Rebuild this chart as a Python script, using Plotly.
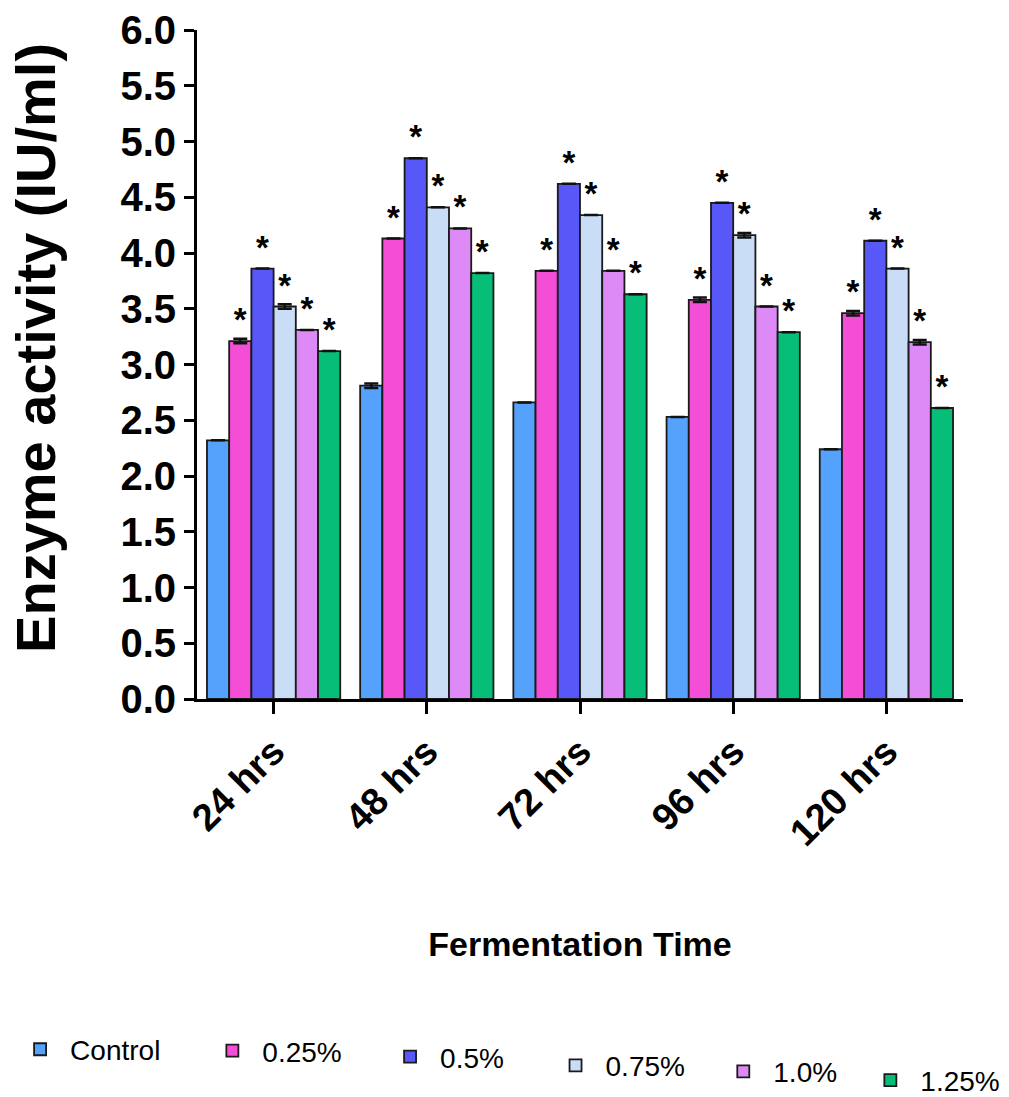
import plotly.graph_objects as go

# Fermentation time points (x categories)
times = ["24 hrs", "48 hrs", "72 hrs", "96 hrs", "120 hrs"]

# Substrate concentration series
series_names = ["Control", "0.25%", "0.5%", "0.75%", "1.0%", "1.25%"]

# Enzyme activity (IU/ml) per concentration, one value per time point
control = [2.32, 2.81, 2.66, 2.53, 2.24]
conc_025 = [3.21, 4.13, 3.84, 3.58, 3.46]
conc_050 = [3.86, 4.85, 4.62, 4.45, 4.11]
conc_075 = [3.52, 4.41, 4.34, 4.16, 3.86]
conc_100 = [3.31, 4.22, 3.84, 3.52, 3.20]
conc_125 = [3.12, 3.82, 3.63, 3.29, 2.61]

# Standard error for each bar
err_control = [0.0, 0.02, 0.0, 0.0, 0.0]
err_025 = [0.02, 0.0, 0.0, 0.02, 0.02]
err_050 = [0.0, 0.0, 0.0, 0.0, 0.0]
err_075 = [0.02, 0.0, 0.0, 0.02, 0.0]
err_100 = [0.0, 0.0, 0.0, 0.0, 0.02]
err_125 = [0.0, 0.0, 0.0, 0.0, 0.0]

# Significance marks versus control
sig_control = ["", "", "", "", ""]
sig_treated = ["*", "*", "*", "*", "*"]

y_ticks = [0.0, 0.5, 1.0, 1.5, 2.0, 2.5, 3.0, 3.5, 4.0, 4.5, 5.0, 5.5, 6.0]

values = [control, conc_025, conc_050, conc_075, conc_100, conc_125]
errors = [err_control, err_025, err_050, err_075, err_100, err_125]
sigs = [sig_control, sig_treated, sig_treated, sig_treated, sig_treated, sig_treated]
colors = ["#55A2FC", "#F54ED6", "#5858F8", "#C9DDF6", "#DD89F6", "#06BE78"]

FONT = "Liberation Sans, Arial, sans-serif"

# stepped key beneath the chart (paper coords)
legend_x = [-0.244, 0.007, 0.239, 0.455, 0.674, 0.866]
legend_y = [-0.524, -0.526, -0.535, -0.548, -0.557, -0.570]

fig = go.Figure()
for i, (name, vals, err, sig, col) in enumerate(zip(series_names, values, errors, sigs, colors)):
    legend_id = "legend" if i == 0 else f"legend{i + 1}"
    fig.add_trace(go.Bar(
        name=name,
        x=times,
        y=vals,
        marker=dict(color=col, line=dict(color="#1a1a1a", width=1.8)),
        error_y=dict(type="data", array=err, visible=True, color="#111111",
                     thickness=2.5, width=7),
        text=sig,
        textposition="outside",
        textfont=dict(family=FONT, size=33, color="black", weight="bold"),
        constraintext="none",
        cliponaxis=False,
        showlegend=True,
        legend=legend_id,
    ))

layout_legends = {}
for i in range(6):
    key = "legend" if i == 0 else f"legend{i + 1}"
    layout_legends[key] = dict(
        x=legend_x[i], y=legend_y[i], xanchor="left", yanchor="middle",
        xref="paper", yref="paper",
        bgcolor="rgba(0,0,0,0)",
        font=dict(family=FONT, size=28, color="black"),
        itemwidth=50,
    )

fig.update_layout(
    width=1009,
    height=1097,
    margin=dict(l=197, r=46, t=30, b=398, autoexpand=False),
    paper_bgcolor="white",
    plot_bgcolor="white",
    showlegend=True,
    barmode="group",
    bargap=0.13,
    bargroupgap=0.0,
    **layout_legends,
)

# y-axis title, rotated, set slightly above the axis midpoint
fig.add_annotation(
    text="Enzyme activity (IU/ml)",
    textangle=-90,
    xref="paper", yref="paper",
    x=-0.21, y=0.525,
    xanchor="center", yanchor="middle",
    showarrow=False,
    font=dict(family=FONT, size=56, color="black", weight="bold"),
)

fig.update_yaxes(
    range=[0, 6.0],
    tickvals=y_ticks,
    ticktext=[f"{v:.1f}" for v in y_ticks],
    ticks="outside",
    ticklen=10,
    tickwidth=3,
    tickcolor="black",
    showline=True,
    linewidth=3,
    linecolor="black",
    showgrid=False,
    zeroline=False,
    automargin=False,
    tickfont=dict(family=FONT, size=40, color="black", weight="bold"),
)

fig.update_xaxes(
    range=[-0.5, 4.5],
    ticks="outside",
    ticklen=12,
    tickwidth=3,
    tickcolor="black",
    showline=True,
    linewidth=3,
    linecolor="black",
    showgrid=False,
    automargin=False,
    tickangle=-45,
    tickfont=dict(family=FONT, size=38, color="black", weight="bold"),
    title=dict(text="Fermentation Time",
               font=dict(family=FONT, size=34, color="black", weight="bold"),
               standoff=80),
)

fig.write_html("out.html")
